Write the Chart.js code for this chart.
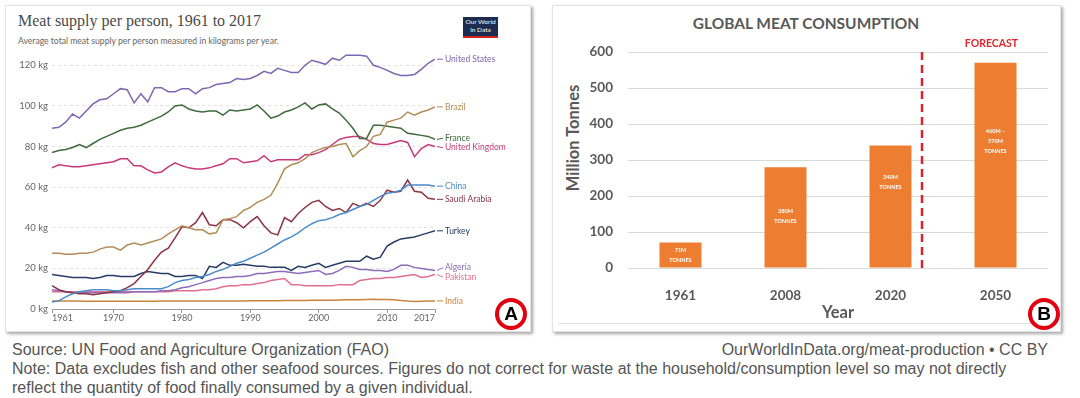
<!DOCTYPE html>
<html>
<head>
<meta charset="utf-8">
<script src="https://cdn.jsdelivr.net/npm/chart.js@4.4.0/dist/chart.umd.min.js"></script>
<style>
    body { margin: 0; width: 1080px; height: 398px; background: #fff; position: relative; overflow: hidden; font-family: "Liberation Sans", Arial, sans-serif; }
    .card { position: absolute; background: #fff; border: 1px solid #e4e4e4; box-shadow: 2px 2px 3px rgba(0, 0, 0, .35); }
    .abs { position: absolute; white-space: nowrap; }
    .badge { position: absolute; width: 24px; height: 24px; border: 4px solid #e3000f; border-radius: 50%; background: #fff;
             font: bold 19px "Liberation Sans", Arial, sans-serif; color: #000; text-align: center; line-height: 24px; }
    canvas { position: absolute; }
    .foot { position: absolute; white-space: nowrap; font-size: 16px; line-height: 19px; color: #555; }
</style>
</head>
<body>
<div class="card" style="left:5px;top:5px;width:524px;height:325px"></div>
<div class="card" style="left:552px;top:5px;width:507px;height:325px"></div>

<div class="abs" style="left:18px;top:12px;font:16px 'Liberation Serif',serif;color:#4a4a4a">Meat supply per person, 1961 to 2017</div>
<div class="abs" style="left:18px;top:36px;font:8.6px Lato,sans-serif;color:#666">Average total meat supply per person measured in kilograms per year.</div>
<div class="abs" style="left:463px;top:17px;width:35px;height:18px;padding-top:1px;background:#1b2c4e;border-bottom:2px solid #d0261e;color:#fff;font:6.5px Lato,sans-serif;line-height:8px;text-align:center">Our World<br>in Data</div>

<div class="abs" style="left:552px;top:14px;width:508px;text-align:center;font:bold 15.5px Lato,sans-serif;color:#595959">GLOBAL MEAT CONSUMPTION</div>
<div class="abs" style="left:503px;top:128px;width:140px;text-align:center;transform:rotate(-90deg);font:bold 16.5px Lato,sans-serif;line-height:20px;color:#595959">Million Tonnes</div>
<div class="abs" style="left:558px;top:323px;width:490px;height:1px;background:#e0e0e0"></div>

<canvas id="meatSupply" width="540" height="335" style="left:0;top:0"></canvas>
<canvas id="meatTotal" width="535" height="335" style="left:545px;top:0"></canvas>

<div class="badge" style="left:495px;top:298px">A</div>
<div class="badge" style="left:1028px;top:298px">B</div>

<div class="foot" style="left:12px;top:340px">Source: UN Food and Agriculture Organization (FAO)</div>
<div class="foot" style="right:32px;top:340px">OurWorldInData.org/meat-production • CC BY</div>
<div class="foot" style="left:12px;top:359px">Note: Data excludes fish and other seafood sources. Figures do not correct for waste at the household/consumption level so may not directly<br>reflect the quantity of food finally consumed by a given individual.</div>

<script>
// panel A: kg per person per year
const years = [1961, 1962, 1963, 1964, 1965, 1966, 1967, 1968, 1969, 1970,
    1971, 1972, 1973, 1974, 1975, 1976, 1977, 1978, 1979, 1980,
    1981, 1982, 1983, 1984, 1985, 1986, 1987, 1988, 1989, 1990,
    1991, 1992, 1993, 1994, 1995, 1996, 1997, 1998, 1999, 2000,
    2001, 2002, 2003, 2004, 2005, 2006, 2007, 2008, 2009, 2010,
    2011, 2012, 2013, 2014, 2015, 2016, 2017];
const xTickYears = [1961, 1970, 1980, 1990, 2000, 2010, 2017];
const yTicksKg = [0, 20, 40, 60, 80, 100, 120];

const unitedStates = [89, 89.5, 92, 96, 94, 97.5, 101, 103, 103.5, 106,
    108.5, 108, 101.5, 106, 102, 109, 109, 107, 107, 108.5,
    108.5, 106, 108.5, 109, 110.5, 111, 111.5, 113.5, 113, 113.5,
    115, 117, 116, 118.5, 117.5, 116.5, 116.5, 120, 122.5, 121.5,
    120.5, 123.5, 122.5, 125, 125, 125, 124.5, 120, 119, 117.5,
    116, 115, 115, 115.5, 118, 121, 123];
const brazil = [27.5, 27.5, 27, 27, 27.5, 27.5, 28, 29.5, 30.5, 30.5,
    29, 31.5, 32.5, 31.5, 32.5, 33.5, 34.5, 37, 39, 41,
    40, 39, 39, 37, 37.5, 44, 44.5, 45.5, 48.5, 50,
    52.5, 54, 56, 62, 69, 71, 72, 74, 77, 78.5,
    79.5, 80, 81, 81.5, 75, 78, 80, 85, 86, 92,
    93, 94, 97, 95.5, 97, 98, 99.5];
const france = [77, 78, 78.5, 79.5, 81, 79.5, 81.5, 83.5, 85, 86.5,
    88, 89, 89.5, 90.5, 92, 93.5, 95, 97, 100, 100.5,
    98.5, 97.5, 97, 97.5, 97.5, 95.5, 98, 97.5, 98, 98.5,
    100.5, 97.5, 94, 95, 97, 98, 99.5, 101.5, 98.5, 100.5,
    101, 98.5, 96.5, 93, 89, 84, 84, 90.5, 90.5, 90,
    89.5, 89, 86.5, 86, 85.5, 85, 83.5];
const unitedKingdom = [69.5, 71, 70.5, 70, 70, 70.5, 71, 71.5, 72, 72.5,
    74, 74, 70.5, 70.5, 68.5, 67, 67.5, 70, 72, 70.5,
    69.5, 69, 69, 69.5, 70.5, 71.5, 74, 74, 72, 72.5,
    73, 75.5, 72.5, 73.5, 73.5, 73.5, 73.5, 76, 76, 77,
    78.5, 81, 83.5, 84.5, 85, 85, 83.5, 81.5, 81, 81,
    82, 83, 82, 75, 79, 81, 80];
const china = [3.5, 4, 6, 7.5, 8.5, 9, 9.5, 9.5, 9.5, 9,
    9, 9.5, 10, 10, 10, 10, 10, 11, 13, 14,
    14.5, 15.5, 16, 17, 18.5, 19.5, 21, 22.5, 23.5, 25,
    26.5, 28, 30, 32, 34, 35.5, 37.5, 40, 42, 43.5,
    44, 45, 46.5, 47.5, 49, 50.5, 51.5, 53.5, 55.5, 57,
    57.5, 58.5, 61, 61, 61, 61, 60.5];
const saudiArabia = [11.5, 9.5, 8.5, 8, 7.5, 7.5, 7, 7.5, 8, 8.5,
    9, 10.5, 12.5, 16, 19.5, 24, 28, 30, 35, 40.5,
    40, 42.5, 47.5, 41.5, 41, 44, 44, 42.5, 40, 43,
    45.5, 41, 37.5, 36.5, 45, 43, 47, 50, 52.5, 53.5,
    50.5, 48.5, 49.5, 47.5, 52, 50.5, 52, 50.5, 53.5, 58.5,
    57.5, 58, 63.5, 58, 57.5, 54.5, 54];
const turkey = [17, 16.5, 16, 15.5, 15.5, 15.5, 15, 15.5, 16.5, 16.5,
    16, 16, 16, 17.5, 18.5, 18, 17.5, 17.5, 16, 16,
    16.5, 16.5, 15, 21, 20.5, 23, 21.5, 21.5, 22, 21.5,
    21, 21, 20.5, 20.5, 20.5, 19, 21, 20.5, 21.5, 22.5,
    20.5, 21.5, 22.5, 23.5, 23.5, 23.5, 26, 24.5, 25.5, 31,
    33, 34.5, 35, 35.5, 36.5, 37.5, 38.5];
const algeria = [9.5, 9, 8.5, 8, 8, 8, 8, 8, 8, 8,
    8, 8, 8.5, 8.5, 8.5, 8.5, 9, 9, 9.5, 10.5,
    11, 12, 13, 14, 15, 15.5, 15.5, 16, 16, 16.5,
    17.5, 17.5, 18, 18.5, 18.5, 18, 17.5, 18, 18.5, 19,
    17, 17.5, 19, 21, 20.5, 19.5, 19.5, 19, 19, 18.5,
    19.5, 21.5, 21.5, 20.5, 20, 19.5, 19];
const pakistan = [8.5, 8.5, 8.5, 8.5, 8.5, 8.5, 8.5, 8.5, 8.5, 8.5,
    8.5, 8.5, 8.5, 8.5, 8.5, 8.5, 8.5, 8.5, 9, 9,
    9, 9, 9.5, 9.5, 10, 11, 11.5, 11.5, 12, 12,
    12.5, 13, 14, 14.5, 15, 12, 12, 11.5, 11.5, 11.5,
    11.5, 11.5, 12, 12, 12, 14, 14.5, 15, 15, 15.5,
    15.5, 16, 16.5, 17, 15.5, 16, 17];
const india = [3.9, 3.9, 3.9, 3.9, 3.9, 3.8, 3.8, 3.8, 3.8, 3.8,
    3.8, 3.8, 3.8, 3.8, 3.8, 3.8, 3.9, 3.9, 3.9, 3.9,
    3.9, 3.9, 3.9, 4, 4, 4, 4, 4, 4, 4.1,
    4.1, 4.1, 4.1, 4.1, 4.2, 4.2, 4.2, 4.2, 4.3, 4.3,
    4.3, 4.3, 4.4, 4.5, 4.6, 4.6, 4.7, 4.8, 4.7, 4.7,
    4.5, 4.2, 3.9, 3.7, 3.8, 3.9, 4];

// panel B: million tonnes
const barYears = ['1961', '2008', '2020', '2050'];
const barValues = [71, 280, 340, 570];
const barTexts = [['71M', 'TONNES'], ['280M', 'TONNES'], ['340M', 'TONNES'], ['460M –', '570M', 'TONNES']];
const barTicks = [0, 100, 200, 300, 400, 500, 600];

const series = [
    ['United States', unitedStates, '#7a69b0'],
    ['Brazil', brazil, '#b38d58'],
    ['France', france, '#3f6a3c'],
    ['United Kingdom', unitedKingdom, '#c9387a'],
    ['China', china, '#4a8bcb'],
    ['Saudi Arabia', saudiArabia, '#8c3344'],
    ['Turkey', turkey, '#283d66'],
    ['Algeria', algeria, '#8f6bba'],
    ['Pakistan', pakistan, '#e0708e'],
    ['India', india, '#c8843f']
];

const lato = 'Lato, "Liberation Sans", sans-serif';

// names at the end of each line, pushed apart when they collide
const endLabels = {
    id: 'endLabels',
    afterDatasetsDraw(chart) {
        const { ctx, scales: { x, y } } = chart;
        const x0 = x.getPixelForValue(years[years.length - 1]);
        let items = chart.data.datasets.map(ds => {
            const py = y.getPixelForValue(ds.data[ds.data.length - 1]);
            return { ds, py, ly: py };
        }).sort((a, b) => a.py - b.py);
        const gap = 9.5;
        for (let pass = 0; pass < 6; pass++) {
            for (let i = 1; i < items.length; i++) {
                if (items[i].ly - items[i - 1].ly < gap) {
                    const mid = (items[i].ly + items[i - 1].ly) / 2;
                    items[i - 1].ly = mid - gap / 2;
                    items[i].ly = mid + gap / 2;
                }
            }
        }
        ctx.save();
        ctx.font = '8.5px ' + lato;
        ctx.textBaseline = 'middle';
        items.forEach(it => {
            ctx.strokeStyle = it.ds.borderColor;
            ctx.lineWidth = 1;
            ctx.beginPath();
            ctx.moveTo(x0 + 2, it.py);
            ctx.lineTo(x0 + 8, it.ly);
            ctx.stroke();
            ctx.fillStyle = it.ds.borderColor;
            ctx.fillText(it.ds.label, x0 + 10, it.ly);
        });
        ctx.restore();
    }
};

// first year label starts at the axis start, last one ends at the axis end
const yearLabels = {
    id: 'yearLabels',
    afterDraw(chart) {
        const { ctx, scales: { x } } = chart;
        ctx.save();
        ctx.font = '9px ' + lato;
        ctx.fillStyle = '#666';
        ctx.textBaseline = 'top';
        xTickYears.forEach((v, i) => {
            ctx.textAlign = i === 0 ? 'left' : (i === xTickYears.length - 1 ? 'right' : 'center');
            ctx.fillText(String(v), x.getPixelForValue(v), x.top + 5);
        });
        ctx.restore();
    }
};

new Chart(document.getElementById('meatSupply'), {
    type: 'line',
    data: {
        labels: years,
        datasets: series.map(s => ({
            label: s[0],
            data: s[1],
            borderColor: s[2],
            borderWidth: 1.5,
            pointRadius: 0,
            tension: 0
        }))
    },
    options: {
        responsive: false,
        animation: false,
        layout: { padding: { top: 45, right: 105, bottom: 0, left: 0 } },
        plugins: { legend: { display: false }, tooltip: { enabled: false } },
        scales: {
            x: {
                type: 'linear',
                min: 1961,
                max: 2017,
                afterBuildTicks: s => { s.ticks = xTickYears.map(v => ({ value: v })); },
                afterFit: s => { s.height = 26; },
                ticks: { display: false },
                grid: { drawOnChartArea: false, drawTicks: true, tickLength: 4, color: '#9a9a9a' },
                border: { color: '#9a9a9a' }
            },
            y: {
                min: 0,
                max: 130,
                afterBuildTicks: s => { s.ticks = yTicksKg.map(v => ({ value: v })); },
                afterFit: s => { s.width = 52; },
                ticks: { callback: v => v + ' kg', color: '#666', font: { family: lato, size: 9.5 }, padding: 4 },
                grid: { color: '#e2e2e2', drawTicks: false },
                border: { display: false, dash: [3, 3] }
            }
        }
    },
    plugins: [endLabels, yearLabels]
});

// white text inside bars, forecast marker
const barNotes = {
    id: 'barNotes',
    afterDatasetsDraw(chart, args, opts) {
        const { ctx, chartArea, scales: { x, y } } = chart;
        ctx.save();
        ctx.font = 'bold 5.5px ' + lato;
        ctx.fillStyle = '#fff';
        ctx.textAlign = 'center';
        ctx.textBaseline = 'middle';
        barValues.forEach((v, i) => {
            const lines = barTexts[i];
            const cy = y.getPixelForValue(v * opts.anchor[i]);
            const px = x.getPixelForValue(i);
            lines.forEach((t, k) => {
                ctx.fillText(t, px, cy + (k - (lines.length - 1) / 2) * 10);
            });
        });
        // dashed divider between actual and forecast
        const dx = x.getPixelForValue(2) + (x.getPixelForValue(3) - x.getPixelForValue(2)) * 0.3;
        ctx.strokeStyle = '#d9262c';
        ctx.lineWidth = 2.5;
        ctx.setLineDash([8, 5]);
        ctx.beginPath();
        ctx.moveTo(dx, chartArea.top);
        ctx.lineTo(dx, chartArea.bottom);
        ctx.stroke();
        ctx.setLineDash([]);
        ctx.fillStyle = '#e0262c';
        ctx.font = 'bold 10.5px ' + lato;
        ctx.fillText('FORECAST', x.getPixelForValue(3) - 4, chartArea.top - 8);
        ctx.restore();
    }
};

new Chart(document.getElementById('meatTotal'), {
    type: 'bar',
    data: {
        labels: barYears,
        datasets: [{
            data: barValues,
            backgroundColor: '#ed7d31',
            barPercentage: 0.4,
            categoryPercentage: 1
        }]
    },
    options: {
        responsive: false,
        animation: false,
        layout: { padding: { top: 52, right: 32, bottom: 0, left: 0 } },
        plugins: {
            legend: { display: false },
            tooltip: { enabled: false },
            barNotes: { anchor: [0.5, 0.51, 0.7, 0.62] }
        },
        scales: {
            x: {
                afterFit: s => { s.height = 67; },
                ticks: { color: '#595959', font: { family: lato, size: 13.5, weight: 'bold' }, padding: 12 },
                grid: { display: false },
                border: { display: false },
                title: { display: true, text: 'Year', color: '#595959', font: { family: lato, size: 16.5, weight: 'bold' }, padding: { bottom: 12 } }
            },
            y: {
                min: 0,
                max: 600,
                afterBuildTicks: s => { s.ticks = barTicks.map(v => ({ value: v })); },
                afterFit: s => { s.width = 83; },
                ticks: { color: '#595959', font: { family: lato, size: 13.5, weight: 'bold' }, padding: 15 },
                grid: { color: '#d9d9d9', drawTicks: false },
                border: { display: false }
            }
        }
    },
    plugins: [barNotes]
});
</script>
</body>
</html>
